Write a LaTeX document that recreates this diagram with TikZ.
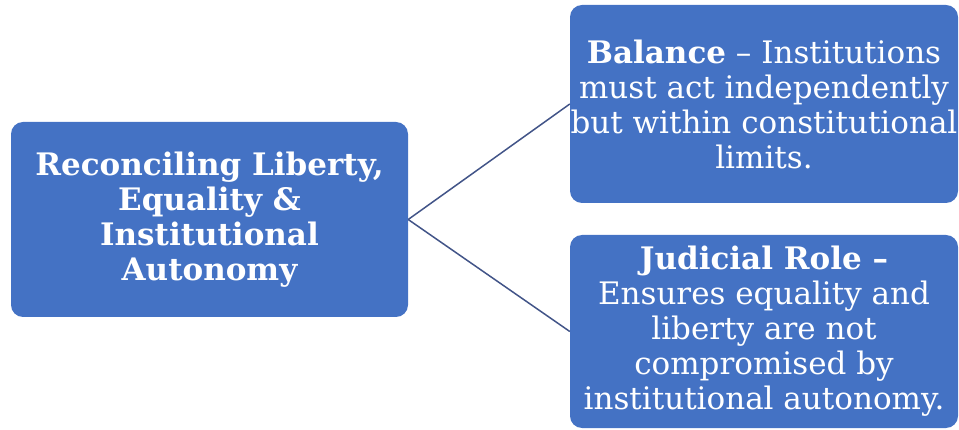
\documentclass[tikz,border=0pt]{standalone}
\usepackage{fontspec}
\setmainfont{DejaVu Serif}
\usepackage{tikz}
\usetikzlibrary{positioning}

\definecolor{boxblue}{RGB}{68,114,196}
\definecolor{linkblue}{RGB}{66,84,136}

\tikzset{
  box/.style={fill=boxblue, rounded corners=12pt, text=white, align=center,
    font=\fontsize{31}{35}\selectfont, inner sep=0pt},
  link/.style={draw=linkblue, line width=1.5pt}
}

\begin{document}
\begin{tikzpicture}[x=1pt,y=-1pt]
      \useasboundingbox (0, 0) rectangle (959, 430);

      % Centre topic
      \node[box, minimum width=397pt, minimum height=195pt] (centre) at (209.5, 219.5)
        {\bfseries Reconciling Liberty,\\ \bfseries Equality \&\\ \bfseries Institutional\\ \bfseries Autonomy};

      % Right hand points
      \node[box, minimum width=388pt, minimum height=198pt] (balance) at (764, 104)
        {\textbf{Balance} -- Institutions\\ must act independently\\ but within constitutional\\ limits.};
      \node[box, minimum width=388pt, minimum height=193pt] (judicial) at (764, 331.5)
        {\textbf{Judicial Role --}\\ Ensures equality and\\ liberty are not\\ compromised by\\ institutional autonomy.};

      \draw[link] (centre.east) -- (balance.west);
      \draw[link] (centre.east) -- (judicial.west);
    \end{tikzpicture}
\end{document}
